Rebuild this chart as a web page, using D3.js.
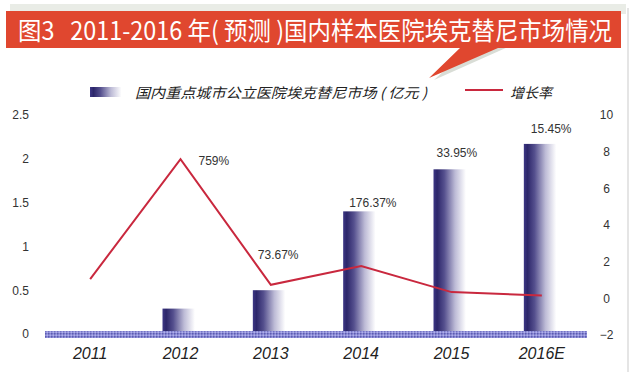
<!DOCTYPE html>
<html><head><meta charset="utf-8">
<script src="https://cdn.jsdelivr.net/npm/d3@7"></script>
<style>body{margin:0;background:#fff}svg{display:block}</style>
</head><body>
<svg id="c" width="635" height="379"></svg>
<script>
const categories = ["2011","2012","2013","2014","2015","2016E"];
const marketValues = [0.03, 0.29, 0.50, 1.40, 1.88, 2.17];
const growthRates = [1.05, 7.59, 0.7367, 1.7637, 0.3395, 0.1545];
const growthLabels = ["", "759%", "73.67%", "176.37%", "33.95%", "15.45%"];
const leftTicks = [0, 0.5, 1, 1.5, 2, 2.5];
const rightTicks = [-2, 0, 2, 4, 6, 8, 10];
const titleText = "图3\u00a0\u00a0\u00a02011-2016 年( 预测 )国内样本医院埃克替尼市场情况";
const legendBar = "国内重点城市公立医院埃克替尼市场 ( 亿元 )";
const legendLine = "增长率";
// label offsets (layout only)
const labelPos = [null, {ref:"line",dx:18,dy:6}, {ref:"bar",dx:-13,dy:-31}, {ref:"bar",dx:-12,dy:-4}, {ref:"bar",dx:-15,dy:-12}, {ref:"bar",dx:-11,dy:-11}];

const svg = d3.select("#c");
const font = "Liberation Sans, Arial, sans-serif";
const cjk = "'Noto Sans CJK SC', sans-serif";

const defs = svg.append("defs");
const g1 = defs.append("linearGradient").attr("id","barGrad").attr("x1","0").attr("x2","1").attr("y1","0").attr("y2","0");
[[0,"#3d3785"],[0.1,"#2c266a"],[0.3,"#55508e"],[0.6,"#bdbbd6"],[0.9,"#ffffff"]].forEach(s=>g1.append("stop").attr("offset",s[0]).attr("stop-color",s[1]));
const pat = defs.append("pattern").attr("id","floorPat").attr("width",3).attr("height",3).attr("patternUnits","userSpaceOnUse");
pat.append("rect").attr("width",3).attr("height",3).attr("fill","#8a8ad6");
pat.append("rect").attr("width",1.5).attr("height",1.5).attr("fill","#5c5cb0");
pat.append("rect").attr("x",1.5).attr("y",1.5).attr("width",1.5).attr("height",1.5).attr("fill","#b0b0ea");

// page border/shadow
svg.append("rect").attr("x",10).attr("y",4).attr("width",616).attr("height",10).attr("fill","#e9ece6");
svg.append("line").attr("x1",628).attr("x2",628).attr("y1",8).attr("y2",372).attr("stroke","#dcdcdc").attr("stroke-width",1.5);

// banner
svg.append("path").attr("d","M470,47 L434,80 L508,47 Z").attr("fill","#d9ddd6");
svg.append("path").attr("d","M6,11 L621,11 L621,48 L498,48 L429,78 L460,48 L6,48 Z").attr("fill","#e0472f");
svg.append("text").attr("x",18).attr("y",40).attr("fill","#fff").attr("font-family",cjk).attr("font-size",25)
  .attr("textLength",594).attr("lengthAdjust","spacingAndGlyphs").text(titleText);

// scales
const x = d3.scaleBand().domain(categories).range([45,587]);
const y = d3.scaleLinear().domain([0,2.5]).range([334,115]);
const y2 = d3.scaleLinear().domain([-2,10]).range([335,115]);
const cx = c => x(c) + x.bandwidth()/2;

// axes
const la = svg.append("g").attr("transform","translate(29,0)")
  .call(d3.axisLeft(y).tickValues(leftTicks).tickSize(0).tickPadding(0).tickFormat(d3.format("")));
la.select(".domain").remove();
la.selectAll("text").attr("font-family",font).attr("font-size",12).attr("fill","#333");
const ra = svg.append("g").attr("transform","translate(600,0)")
  .call(d3.axisRight(y2).tickValues(rightTicks).tickSize(0).tickPadding(0));
ra.select(".domain").remove();
ra.selectAll("text").attr("font-family",font).attr("font-size",12).attr("fill","#333").attr("text-anchor","middle").attr("x",6.5);

// bars
svg.selectAll(".bar").data(categories).enter().append("rect")
  .attr("x",c=>cx(c)-18).attr("width",36)
  .attr("y",(c,i)=>y(marketValues[i])).attr("height",(c,i)=>y(0)-y(marketValues[i]))
  .attr("fill","url(#barGrad)");

// floor
svg.append("rect").attr("x",x.range()[0]).attr("y",331).attr("width",x.range()[1]-x.range()[0]).attr("height",7).attr("fill","url(#floorPat)");

// line
const line = d3.line().x((d,i)=>cx(categories[i])).y(d=>y2(d));
svg.append("path").datum(growthRates).attr("d",line).attr("fill","none").attr("stroke","#c9283e").attr("stroke-width",2);

// labels
svg.selectAll(".lbl").data(categories).enter().append("text")
  .attr("x",(c,i)=> labelPos[i] ? cx(c)+labelPos[i].dx : 0)
  .attr("y",(c,i)=> labelPos[i] ? (labelPos[i].ref==="line" ? y2(growthRates[i]) : y(marketValues[i])) + labelPos[i].dy : 0)
  .attr("font-family",font).attr("font-size",12).attr("fill","#333")
  .text((c,i)=>growthLabels[i]);

// x labels
svg.selectAll(".xl").data(categories).enter().append("text")
  .attr("x",c=>cx(c)).attr("y",359).attr("text-anchor","middle")
  .attr("font-family",font).attr("font-size",16).attr("font-style","italic").attr("fill","#222").text(c=>c);

// legend
svg.append("rect").attr("x",90).attr("y",87).attr("width",35).attr("height",10).attr("fill","url(#barGrad)");
svg.append("text").attr("x",135).attr("y",98).attr("font-family",cjk).attr("font-size",14).attr("font-style","italic")
  .attr("fill","#222").attr("textLength",292).attr("lengthAdjust","spacingAndGlyphs").text(legendBar);
svg.append("line").attr("x1",465).attr("x2",503).attr("y1",90).attr("y2",90).attr("stroke","#c9283e").attr("stroke-width",2);
svg.append("text").attr("x",510).attr("y",98).attr("font-family",cjk).attr("font-size",14).attr("font-style","italic")
  .attr("fill","#222").text(legendLine);
</script>
</body></html>
